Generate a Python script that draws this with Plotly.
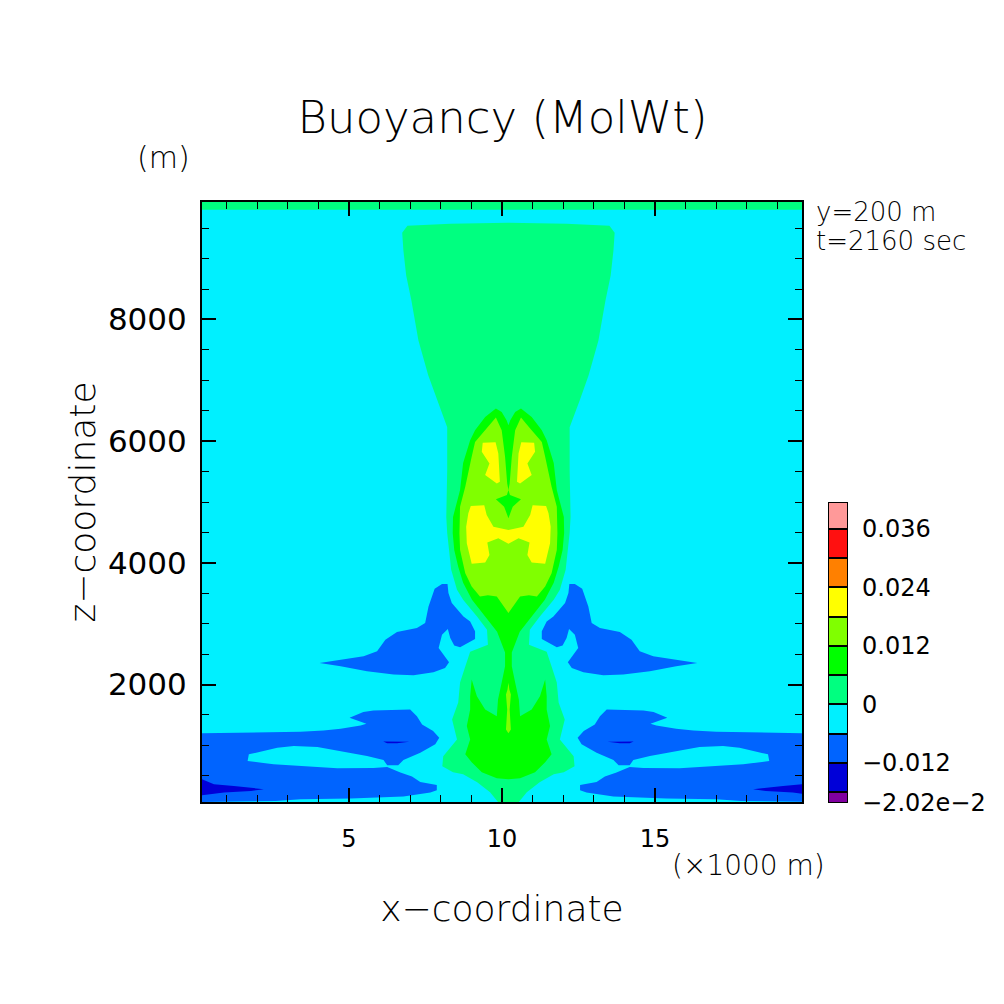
import plotly.graph_objects as go

PLUME_AXIS_KM = 10.21
X_RANGE = [0.2, 19.8]
Z_RANGE = [70, 9930]

strip_x = [0.2, 19.8, 19.8, 0.2]
strip_z = [9802, 9802, 9930, 9930]

band_x = [0.2, 2.18, 3.42, 4.17, 4.73, 5.38, 5.57, 5.02, 5.47, 5.8, 7.0, 7.22, 7.39, 7.75, 7.95, 7.82, 7.33, 6.78,
          6.61, 6.25, 6.13, 5.59, 4.73, 3.97, 3.2, 2.66, 1.73, 1.69, 2.54, 3.75, 4.62, 5.8, 6.25, 6.68, 7.06, 7.33,
          7.87, 7.87, 7.66, 6.78, 5.05, 3.42, 2.61, 0.2]
band_z = [1198, 1209, 1225, 1247, 1275, 1329, 1357, 1455, 1547, 1574, 1591, 1481, 1345, 1235, 1127, 1017, 881, 760,
          673, 673, 760, 825, 907, 973, 989, 963, 853, 744, 689, 645, 624, 629, 645, 553, 488, 399,
          350, 263, 226, 160, 127, 116, 88, 70]

blob_x = [4.04, 4.62, 5.48, 5.92, 6.19, 6.57, 7.22, 7.49, 7.6, 7.8, 8.04, 8.22, 8.25, 8.36, 8.74, 8.96, 9.12, 9.12,
          8.63, 8.44, 8.31, 8.23, 8.04, 7.93, 8.14, 8.27, 8.14, 7.76, 7.11, 6.46, 5.59, 4.73]
blob_z = [2356, 2399, 2465, 2546, 2738, 2864, 2930, 3012, 3284, 3574, 3651, 3651, 3504, 3340, 3120, 3038, 2874, 2750,
          2612, 2640, 2766, 2914, 2820, 2602, 2465, 2366, 2274, 2202, 2153, 2165, 2219, 2301]

deep_x = [0.2, 0.59, 1.24, 2.22, 1.8, 0.92, 0.2]
deep_z = [444, 362, 334, 280, 252, 226, 181]

sliver_x = [6.12, 6.97, 6.57, 6.25]
sliver_z = [1066, 1061, 1034, 1034]

spring_x = [10.21, 8.31, 6.91, 6.74, 6.78, 6.87, 7.04, 7.27, 7.59, 7.88, 8.21, 8.21, 8.18, 8.21, 8.34, 8.53, 8.73,
            9.19, 9.51, 9.54, 8.96, 8.8, 8.63, 8.57, 8.37, 8.53, 8.08, 8.05, 8.4, 8.73, 9.19, 9.61, 9.87, 10.21]
spring_z = [9589, 9573, 9540, 9425, 9130, 8721, 8311, 7655, 7082, 6672, 6229, 5524, 4754, 4492, 3885, 3558, 3394,
            3115, 2902, 2656, 2541, 2296, 2033, 1706, 1427, 1099, 821, 657, 558, 526, 394, 231, 70, 70]

green_x = [10.21, 10.15, 9.99, 9.8, 9.45, 9.12, 8.96, 8.73, 8.63, 8.4, 8.39, 8.44, 8.57, 8.73, 9.02, 9.35, 9.61, 9.84,
           10.1, 10.1, 9.99, 9.87, 9.83, 9.45, 9.18, 9.01, 8.96, 8.96, 8.85, 8.96, 8.8, 9.01, 9.34, 9.83, 10.21]
green_z = [6262, 6344, 6480, 6536, 6398, 6180, 6016, 5639, 5197, 4754, 4492, 4213, 3935, 3672, 3394, 3181, 3017, 2869,
           2525, 2301, 2033, 1755, 1481, 1591, 1809, 2083, 1809, 1591, 1317, 1099, 853, 722, 558, 460, 444]

lime_x = [10.21, 10.17, 10.1, 9.99, 9.8, 9.5, 9.12, 9.01, 8.8, 8.63, 8.61, 8.63, 8.8, 9.01, 9.28, 9.54, 9.83, 10.21]
lime_z = [5197, 5306, 5742, 6180, 6388, 6208, 5988, 5742, 5251, 4923, 4487, 4213, 3831, 3612, 3448, 3468, 3448, 3176]

diamond_x = [10.21, 10.16, 9.8, 10.07, 10.21]
diamond_z = [5197, 5115, 5044, 4923, 4733]

spike_x = [10.21, 10.18, 10.13, 10.17, 10.13, 10.21]
spike_z = [2029, 1919, 1837, 1591, 1263, 1198]

yellow_low_x = [10.21, 9.72, 9.5, 9.42, 8.98, 8.9, 8.83, 8.85, 9.01, 9.45, 9.59, 9.52, 9.88, 10.21]
yellow_low_z = [4541, 4595, 4787, 4946, 4934, 4815, 4595, 4323, 3984, 4005, 4131, 4333, 4405, 4312]

yellow_up_x = [9.37, 9.79, 9.88, 9.93, 9.83, 9.45, 9.59, 9.34]
yellow_up_z = [5972, 5983, 5798, 5333, 5306, 5443, 5634, 5824]

# Colour key
key_edges = [-0.0202, -0.018, -0.012, -0.006, 0, 0.006, 0.012, 0.018, 0.024, 0.03, 0.036, 0.0415]
key_colors = ["#8000A0", "#0000D8", "#0064FF", "#00F0FF", "#00FF80", "#00FF00", "#80FF00", "#FFFF00", "#FF8000",
              "#FF1010", "#FF9999"]
key_tick_vals = [-0.0202, -0.012, 0, 0.012, 0.024, 0.036]
key_tick_text = ["\u22122.02e\u22122", "\u22120.012", "0", "0.012", "0.024", "0.036"]

FONT = "DejaVu Sans"
CYAN, BLUE, DEEP, SPRING, GREEN, LIME, YELLOW = "#00F0FF", "#0064FF", "#0000D8", "#00FF80", "#00FF00", "#80FF00", "#FFFF00"


def mirrored(xs):
    return [2 * PLUME_AXIS_KM - v for v in xs]


def region(xs, zs, color, name):
    return go.Scatter(x=xs, y=zs, mode="lines", fill="toself", fillcolor=color, line=dict(width=0, color=color),
                      hoverinfo="skip", name=name, showlegend=False, xaxis="x", yaxis="y")


def closed_half(xs, zs, color, name):
    return region(xs + mirrored(xs)[::-1], zs + zs[::-1], color, name)


def both_sides(xs, zs, color, name):
    return [region(xs, zs, color, name), region(mirrored(xs), zs, color, name)]


fig = go.Figure()
fig.add_trace(region(strip_x, strip_z, SPRING, "top strip"))
for t in both_sides(band_x, band_z, BLUE, "low band") + both_sides(blob_x, blob_z, BLUE, "mid blob"):
    fig.add_trace(t)
for t in both_sides(deep_x, deep_z, DEEP, "deep") + both_sides(sliver_x, sliver_z, DEEP, "sliver"):
    fig.add_trace(t)
fig.add_trace(closed_half(spring_x, spring_z, SPRING, "0..0.006"))
fig.add_trace(closed_half(green_x, green_z, GREEN, "0.006..0.012"))
fig.add_trace(closed_half(lime_x, lime_z, LIME, "0.012..0.018"))
fig.add_trace(closed_half(diamond_x, diamond_z, GREEN, "diamond"))
fig.add_trace(closed_half(spike_x, spike_z, LIME, "spike"))
fig.add_trace(closed_half(yellow_low_x, yellow_low_z, YELLOW, "0.018..0.024 low"))
for t in both_sides(yellow_up_x, yellow_up_z, YELLOW, "0.018..0.024 up"):
    fig.add_trace(t)

fig.add_trace(go.Bar(x=[0] * len(key_colors), y=[b - a for a, b in zip(key_edges[:-1], key_edges[1:])],
                     base=key_edges[:-1], width=1, marker=dict(color=key_colors, line=dict(color="black", width=2)),
                     hoverinfo="skip", showlegend=False, xaxis="x2", yaxis="y2"))


def px_x(p):
    return p / 1004


def px_y(p):
    return 1 - p / 1004


def font(size, weight=200, color="black"):
    return dict(family=FONT, size=size, color=color, weight=weight)


def label(text, x, y, size, anchor="left"):
    return dict(text=text, x=px_x(x), y=px_y(y), xref="paper", yref="paper", showarrow=False, xanchor=anchor,
                yanchor="middle", font=font(size))


fig.update_layout(
    template="none",
    width=1004, height=1004, margin=dict(l=0, r=0, t=0, b=0), paper_bgcolor="white", plot_bgcolor=CYAN,
    barmode="overlay", bargap=0, showlegend=False, font=font(24),
    title=dict(text="Buoyancy (MolWt)", x=502.5 / 1004, xanchor="center", y=px_y(117), yanchor="middle",
               font=font(45), automargin=False),
    xaxis=dict(domain=[px_x(202), px_x(802)], range=X_RANGE, tickmode="linear", tick0=0, dtick=5, ticks="inside",
               ticklen=14, tickwidth=2, tickcolor="black", showline=True, linewidth=2, linecolor="black",
               mirror="allticks", automargin=False, showgrid=False, zeroline=False, ticklabelstandoff=14,
               tickfont=font(24, 400),
               minor=dict(tickmode="linear", tick0=0, dtick=1, ticks="inside", ticklen=7, tickwidth=1,
                          tickcolor="black", showgrid=False),
               title=dict(text="x\u2212coordinate", standoff=44, font=font(36))),
    yaxis=dict(domain=[px_y(802), px_y(202)], range=Z_RANGE, tickmode="linear", tick0=0, dtick=2000, ticks="inside",
               ticklen=14, tickwidth=2, tickcolor="black", showline=True, linewidth=2, linecolor="black",
               mirror="allticks", automargin=False, showgrid=False, zeroline=False, ticklabelstandoff=7,
               tickformat="d", tickfont=font(31, 400),
               minor=dict(tickmode="linear", tick0=0, dtick=500, ticks="inside", ticklen=7, tickwidth=1,
                          tickcolor="black", showgrid=False),
               title=dict(text="z\u2212coordinate", standoff=1, font=font(36))),
    xaxis2=dict(domain=[px_x(828), px_x(848)], range=[-0.5, 0.5], anchor="y2", visible=False, automargin=False),
    yaxis2=dict(domain=[px_y(803), px_y(502)], range=[key_edges[0], key_edges[-1]], anchor="x2", side="right",
                tickmode="array", tickvals=key_tick_vals, ticktext=key_tick_text, ticks="", showgrid=False,
                zeroline=False, showline=False, ticklabelstandoff=13, tickfont=font(24, 400), automargin=False),
    annotations=[
        label("(m)", 135, 158, 30),
        label("(\u00d71000 m)", 670, 865, 28),
        label("y=200 m", 814, 212, 26),
        label("t=2160 sec", 814, 241, 26),
    ],
)

fig.write_html("out.html", config={"displayModeBar": False}, post_script="document.body.style.margin='0';")
